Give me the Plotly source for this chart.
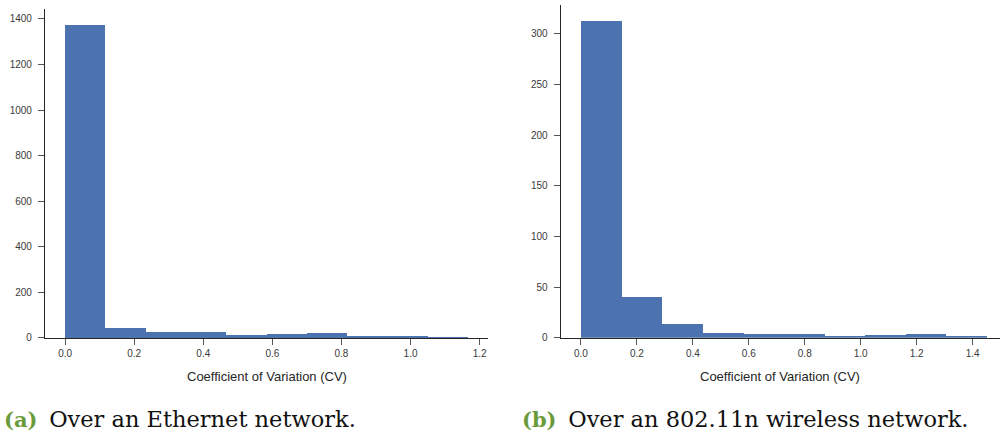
import numpy as np
import plotly.graph_objects as go

# Histogram counts of the coefficient of variation (CV), 10 bins each
eth_counts = [1373, 44, 26, 26, 12, 16, 22, 3, 3, 1]
eth_cv_max = 1.166
wifi_counts = [313, 40, 14, 5, 4, 4, 2, 3, 4, 2]
wifi_cv_max = 1.45

eth_xticks = [0.0, 0.2, 0.4, 0.6, 0.8, 1.0, 1.2]
eth_yticks = [0, 200, 400, 600, 800, 1000, 1200, 1400]
wifi_xticks = [0.0, 0.2, 0.4, 0.6, 0.8, 1.0, 1.2, 1.4]
wifi_yticks = [0, 50, 100, 150, 200, 250, 300]

x_title = "Coefficient of Variation (CV)"
captions = [("(a)", "Over an Ethernet network."),
            ("(b)", "Over an 802.11n wireless network.")]

BAR = "#4C72B0"
AX = "#262626"
TICK_FONT = dict(family="Liberation Sans, Arial, sans-serif", size=10, color="#3a3a3a")
TITLE_FONT = dict(family="Liberation Sans, Arial, sans-serif", size=13, color="#262626")


def hist_bars(counts, vmax):
    edges = np.linspace(0.0, vmax, len(counts) + 1)
    centers = (edges[:-1] + edges[1:]) / 2
    widths = np.diff(edges)
    return centers, widths


fig = go.Figure()

for i, (counts, vmax) in enumerate([(eth_counts, eth_cv_max), (wifi_counts, wifi_cv_max)]):
    c, w = hist_bars(counts, vmax)
    fig.add_trace(go.Bar(
        x=c, y=counts, width=w,
        marker=dict(color=BAR, line=dict(width=0)),
        xaxis="x" if i == 0 else "x2",
        yaxis="y" if i == 0 else "y2",
        showlegend=False,
    ))

common = dict(
    showline=True, linecolor=AX, linewidth=1.25,
    ticks="outside", ticklen=6, tickwidth=1, tickcolor="#555555",
    showgrid=False, zeroline=False, tickfont=TICK_FONT, automargin=False,
)

eth_top = 1.05 * max(eth_counts)
wifi_top = 1.05 * max(wifi_counts)
eth_pad = 0.05 * eth_cv_max
wifi_pad = 0.05 * wifi_cv_max

fig.update_layout(
    template="none",
    width=1000, height=436,
    margin=dict(l=0, r=0, t=0, b=0, pad=0),
    paper_bgcolor="white", plot_bgcolor="white",
    bargap=0,
    xaxis=dict(common, domain=[0.045, 0.488], range=[-eth_pad, eth_cv_max + eth_pad],
               tickvals=eth_xticks, tickformat=".1f", anchor="y"),
    yaxis=dict(common, domain=[0.2248, 0.9784], range=[0, eth_top],
               tickvals=eth_yticks, ticklabelstandoff=4, anchor="x"),
    xaxis2=dict(common, domain=[0.5607, 1.0], range=[-wifi_pad, 1.498],
                tickvals=wifi_xticks, tickformat=".1f", anchor="y2"),
    yaxis2=dict(common, domain=[0.2255, 0.9892], range=[0, wifi_top],
                tickvals=wifi_yticks, ticklabelstandoff=4, anchor="x2"),
)

# x-axis titles, centred under each panel
for xc in [(0.045 + 0.488) / 2, (0.5607 + 0.9993) / 2]:
    fig.add_annotation(
        x=xc, y=1 - 376 / 436, xref="paper", yref="paper",
        xanchor="center", yanchor="middle", showarrow=False,
        text=x_title, font=TITLE_FONT,
    )

# Sub-figure captions below each panel
cap_x = [0.002, 0.520]
for (tag, text), x0 in zip(captions, cap_x):
    fig.add_annotation(
        x=x0, y=1 - 419 / 436, xref="paper", yref="paper",
        xanchor="left", yanchor="middle", showarrow=False,
        text=(f"<b><span style='color:#6B9A3A;font-size:21px'>{tag}</span></b>"
              f"\u2009 {text}"),
        font=dict(family="DejaVu Serif, serif", size=22.5, color="#111111"),
    )

fig.write_html("out.html")
